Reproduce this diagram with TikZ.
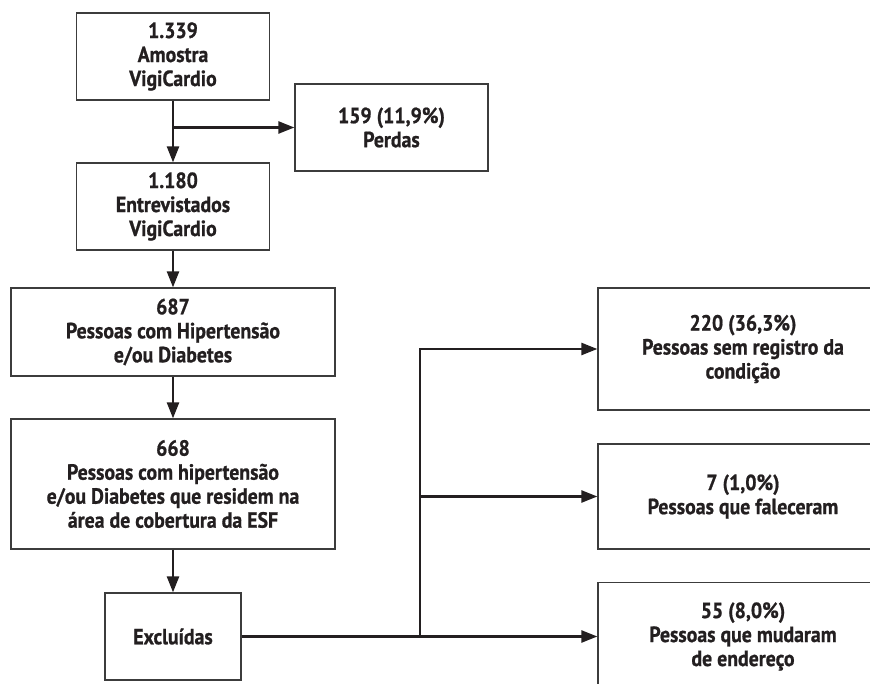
\documentclass[tikz,border=0pt]{standalone}
\usepackage{fontspec}
\setmainfont{PT Sans}[FakeStretch=0.9, BoldFeatures={FakeBold=0.8}]
\usetikzlibrary{arrows.meta,positioning}
\definecolor{boxline}{RGB}{60,60,60}
\definecolor{inkblack}{RGB}{35,31,32}

\begin{document}
\begin{tikzpicture}[
  x=1pt, y=-1pt,
  flowbox/.style={draw=boxline, line width=1.3pt, align=center, inner sep=0pt, text=inkblack, font=\bfseries\fontsize{22}{24}\selectfont},
  narrowbox/.style={flowbox, minimum width=193pt, minimum height=87pt},
  widebox/.style={flowbox, minimum width=324pt},
  sidebox/.style={flowbox, minimum width=290pt},
  arr/.style={-{Triangle[length=16pt,width=12pt]}, line width=2.5pt, draw=inkblack}
]
\useasboundingbox (0,0) rectangle (870,684);
\clip (0,0) rectangle (870,684);

% main column
\node[narrowbox] (amostra) at (173,56.5) {1.339\\Amostra\\VigiCardio};
\node[narrowbox] (perdas) at (391.5,127.5) {159 (11,9\%)\\Perdas};
\node[narrowbox] (entrev) at (173,206.5) {1.180\\Entrevistados\\VigiCardio};
\node[widebox, minimum height=88pt] (hipert) at (173,332) {687\\Pessoas com Hipertensão\\e/ou Diabetes};
\node[widebox, minimum height=130pt] (resid) at (173,484) {668\\Pessoas com hipertensão\\e/ou Diabetes que residem na\\área de cobertura da ESF};
\node[flowbox, minimum width=136pt, minimum height=87pt] (excl) at (173,636.5) {Excluídas};

% exclusions
\node[sidebox, minimum height=122pt] (semreg) at (743,349) {220 (36,3\%)\\Pessoas sem registro da\\condição};
\node[sidebox, minimum height=105pt] (falec) at (743,496.5) {7 (1,0\%)\\Pessoas que faleceram};
\node[sidebox, minimum height=108pt] (mudou) at (743,636.5) {55 (8,0\%)\\Pessoas que mudaram\\de endereço};

\coordinate (split) at (amostra.south |- perdas.west);
\coordinate (trunk) at (420,636.5);

\draw[arr] (amostra) -- (entrev);
\draw[arr] (split) -- (perdas);
\draw[arr] (entrev) -- (hipert);
\draw[arr] (hipert) -- (resid);
\draw[arr] (resid) -- (excl);
\draw[arr] (excl) -- (mudou);
\draw[arr] (trunk) -- (trunk |- semreg) -- (semreg);
\draw[arr] (trunk |- falec) -- (falec);
\end{tikzpicture}
\end{document}
